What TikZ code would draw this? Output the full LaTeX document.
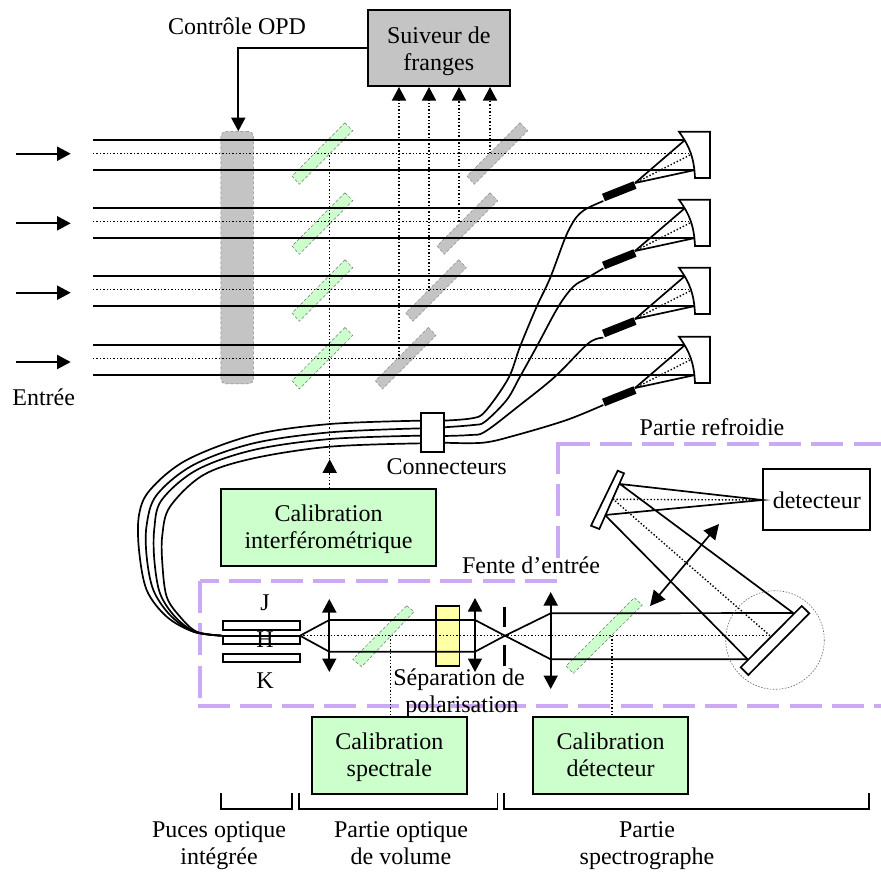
\documentclass[tikz,border=0pt]{standalone}
\usepackage{fontspec}
\setmainfont{Liberation Serif}
\usetikzlibrary{arrows.meta,calc}
\definecolor{pgreen}{HTML}{CCFFCC}
\definecolor{pgray}{HTML}{C4C4C4}
\definecolor{ppurple}{HTML}{CCA9F5}
\definecolor{pyellow}{HTML}{FFFFA6}
\tikzset{
  lab/.style={font=\fontsize{24}{27}\selectfont,align=center,inner sep=0pt,text=black},
  solidline/.style={line width=1.7pt,black},
  dotline/.style={line width=1.4pt,black,dash pattern=on 1.4pt off 2pt},
  tipa/.style={-{Triangle[length=13.5pt,width=14pt]}},
  tipb/.style={{Triangle[length=13.5pt,width=14pt]}-{Triangle[length=13.5pt,width=14pt]}},
  greenplate/.style={fill=pgreen,draw=black!55,line width=.5pt,densely dashed},
  grayplate/.style={fill=pgray,draw=black!45,line width=.5pt,densely dashed},
  box/.style={draw=black,line width=2pt,inner sep=0pt,minimum width=#1},
  optic/.style={draw=black,fill=white,line width=1.7pt},
  cool/.style={draw=ppurple,line width=4pt,dash pattern=on 32pt off 10.3pt},
  zoomA/.style={shift={(440,90)},x=.33333pt,y=-.33333pt},
  zoomB/.style={shift={(120,400)},x=.33333pt,y=-.33333pt},
  fibre/.style={line width=1.7pt,black,smooth,tension=.55},
}
\begin{document}
\begin{tikzpicture}[x=1pt,y=-1pt]
\useasboundingbox[fill=white] (0,0) rectangle (881,871);

% purple enclosure
\draw[cool] (557.5,443.5) -- (881,443.5);
\draw[cool] (557.5,441.5) -- (557.5,565);
\draw[cool,dash phase=13pt] (199.5,581) -- (559.5,581);
\draw[cool] (199.5,581) -- (199.5,705);
\draw[cool] (197.5,705.7) -- (881,705.7);

% OPD delay bar
\node[fill=pgray,draw=black!50,line width=.5pt,densely dashed,rounded corners=5pt,inner sep=0pt,minimum width=32.5pt,minimum height=252.5pt] (opd) at (237.2,257.7) {};

% plates
\foreach \dy/\dx in {0/175,70/145,137/113.7,204.7/83.3}{
  \begin{scope}[shift={(0,\dy)}]
    \draw[greenplate] (345,122.7) -- (352.7,130.7) -- (299.3,184.3) -- (292,176) -- cycle;
    \draw[grayplate,shift={(\dx,0)}] (345,122.7) -- (352.7,130.7) -- (299.3,184.3) -- (292,176) -- cycle;
  \end{scope}
}

% beams and mirrors
\foreach \dy in {0,68,136,205}{
  \begin{scope}[shift={(0,\dy)}]
    \draw[solidline] (93,140) -- (685,140);
    \draw[solidline] (93,170) -- (695,170);
    \draw[dotline] (93,153.5) -- (690,153.5);
    \draw[dotline] (690,155) -- (635,183);
    \draw[solidline] (685,140) -- (635,183);
    \draw[solidline] (695,170) -- (635,183);
    \draw[optic] (679,131.7) -- (710,131.7) -- (710,178) -- (695,178)
       .. controls (694,158) and (690,147) .. (679,131.7) -- cycle;
    \draw[black,line width=8pt] (603.5,197.5) -- (635,185);
  \end{scope}
}

% input arrows
\foreach \y in {153.7,223.3,292.7,362}{
  \draw[solidline,tipa] (16,\y) -- (70.7,\y);
}

% fibres to the right of the connector
\begin{scope}[zoomA]
  \draw[fibre] plot coordinates {(10,992)(95,985)(135,965)(205,865)(240,770)(290,650)(330,565)(375,445)(400,395)(420,370)(445,353)(490,333)};
  \draw[fibre] plot coordinates {(10,1012)(100,1005)(135,995)(200,930)(240,860)(290,770)(355,650)(400,590)(440,565)(490,535)};
  \draw[fibre] plot coordinates {(10,1038)(90,1035)(135,1025)(240,945)(345,860)(445,760)(490,743)};
  \draw[fibre] plot coordinates {(10,1058)(130,1058)(230,1035)(380,990)(490,945)};
\end{scope}
% fibres to the left of the connector
\begin{scope}[zoomB]
  \draw[fibre] plot coordinates {(903,62)(630,72)(400,105)(200,180)(90,270)(57,345)(57,450)(80,570)(140,650)(220,695)(305,707)};
  \draw[fibre] plot coordinates {(903,85)(630,97)(400,130)(220,195)(110,285)(80,375)(80,470)(100,570)(150,645)(220,695)(305,707)};
  \draw[fibre] plot coordinates {(903,107)(630,117)(400,150)(230,210)(125,300)(103,385)(103,480)(120,580)(165,650)(225,695)(305,707)};
  \draw[fibre] plot coordinates {(903,130)(630,140)(400,175)(250,225)(150,320)(127,405)(127,490)(140,590)(180,650)(230,695)(305,707)};
\end{scope}

% connector block
\node[optic,inner sep=0pt,minimum width=23pt,minimum height=39pt] (conn) at (432.5,432.2) {};

% boxes
\node[box=142pt,fill=pgray,minimum height=76.5pt,label={[lab,yshift=-3.5pt]center:\strut Suiveur de\\\strut franges}] (suiv) at (438.8,48) {};
\node[box=215pt,fill=pgreen,minimum height=76.5pt,label={[lab,yshift=-2.4pt]center:\strut Calibration\\\strut interférométrique}] (calI) at (328.5,527.5) {};
\node[box=155pt,fill=pgreen,minimum height=76.5pt,label={[lab,yshift=-1.6pt]center:\strut Calibration\\\strut spectrale}] (calS) at (389.3,755.6) {};
\node[box=155pt,fill=pgreen,minimum height=76.5pt,label={[lab,yshift=-1.6pt]center:\strut Calibration\\\strut détecteur}] (calD) at (610.5,755.6) {};
\node[box=107pt,minimum height=61pt,label={[lab]center:detecteur}] (det) at (816.8,499.8) {};

% fringe tracker arrows
\foreach \x/\y in {399/359,429/291,459/221.7,490/153.3}{
  \draw[dotline,tipa] (\x,\y) -- (\x,87);
}
% OPD control
\draw[solidline,tipa] (suiv.west |- 0,47.7) -| (opd.north -| 238.3,0);
% interferometric calibration
\draw[dotline,tipa] (calI.north -| 329.7,0) -- (329.7,459.3);
\draw[dotline] (329.7,459.3) -- (329.7,153.5);

% volume optics: plates under the beams
\draw[greenplate] (406.7,605.7) -- (414,611.7) -- (361.7,666.7) -- (352.7,659.3) -- cycle;
\draw[greenplate] (634.3,597.7) -- (642.3,605) -- (573.3,673.3) -- (566,666) -- cycle;
\node[fill=pyellow,draw=black,line width=1.7pt,inner sep=0pt,minimum width=23.3pt,minimum height=60.6pt] (pol) at (447.7,636) {};

% chips
\node[optic,inner sep=0pt,minimum width=77pt,minimum height=8.4pt] (chipJ) at (261.2,625.5) {};
\node[optic,inner sep=0pt,minimum width=77pt,minimum height=8pt] (chipH) at (261.2,639.7) {};
\node[optic,inner sep=0pt,minimum width=77pt,minimum height=8pt] (chipK) at (261.2,657.7) {};

% rays
\draw[solidline] (300,635.7) -- (329.3,620) -- (475,620) -- (505,635.7) -- (550.7,659.3) -- (747.7,659.3);
\draw[solidline] (300,635.7) -- (329.3,651.7) -- (475,651.7) -- (505,635.7) -- (550.7,613.3) -- (793.3,613);
\draw[dotline] (300,635.7) -- (770,635.7);
\draw[dotline] (390.7,635.7) -- (calS.north -| 390.7,0);
\draw[dotline] (612,635.7) -- (calD.north -| 612,0);

% lenses and slit
\draw[solidline,tipb] (329.3,599) -- (329.3,672);
\draw[solidline,tipb] (475,598) -- (475,672);
\draw[solidline,tipb] (550.7,592) -- (550.7,689);
\draw[black,line width=3.6pt] (504.3,606.7) -- (504.3,626.7) (504.3,645) -- (504.3,665.7);

% spectrograph
\draw[solidline] (793.3,613) -- (620,484) -- (det.west |- 0,500) -- (605,515) -- (747.7,659.3);
\draw[dotline] (770,635.7) -- (613.3,499.3) -- (det.west |- 0,500);
\draw[black!60,line width=.6pt,dash pattern=on 1.5pt off 1.5pt] (775,640) circle[radius=49.3];
\draw[optic] (801.7,606) -- (809.3,613.3) -- (748.3,675) -- (740.7,667.3) -- cycle;
\draw[optic] (617.7,470.7) -- (624,473.3) -- (599.3,529) -- (591,525.7) -- cycle;
\draw[solidline,{Triangle[length=15pt,width=15pt]}-{Triangle[length=15pt,width=15pt]}] (650,606) -- (719,524);

% brackets
\draw[solidline] (220.7,793.3) -- (220.7,809.3) -- (292,809.3) -- (292,793.3);
\draw[solidline] (298.8,793.3) -- (298.8,809.3) -- (497.4,809.3) -- (497.4,793.3);
\draw[solidline] (504,793.3) -- (504,809.3) -- (869,809.3) -- (869,793.3);

% labels
\node[lab] (tOPD) at (237,26) {Contrôle OPD};
\node[lab] (tEnt) at (43.7,397) {Entrée};
\node[lab] (tCon) at (446.7,467) {Connecteurs};
\node[lab] (tRef) at (712,427) {Partie refroidie};
\node[lab] (tFen) at (531,565) {Fente d’entrée};
\node[lab] (tJ) at (265,603) {J};
\node[lab] (tH) at (265,640) {H};
\node[lab] (tK) at (265,681) {K};
\node[lab] (tSep) at (459,680) {Séparation de};
\node[lab] (tPol) at (462,707) {polarisation};
\node[lab] (tPuc) at (219,845.5) {\strut Puces optique\\\strut intégrée};
\node[lab] (tVol) at (401,845.5) {\strut Partie optique\\\strut de volume};
\node[lab] (tSpe) at (647,845.5) {\strut Partie\\\strut spectrographe};
\end{tikzpicture}
\end{document}
